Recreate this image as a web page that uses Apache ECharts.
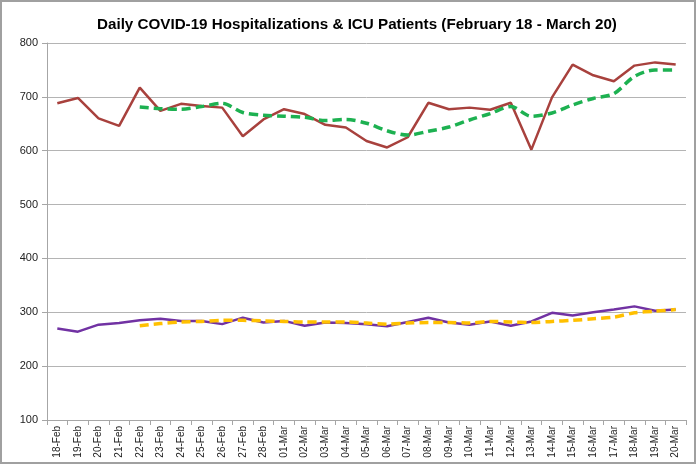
<!DOCTYPE html>
<html>
<head>
<meta charset="utf-8">
<script src="https://cdn.jsdelivr.net/npm/echarts@6/dist/echarts.min.js"></script>
<style>
html,body{margin:0;padding:0;background:#fff;}
#chart{width:696px;height:464px;}
</style>
</head>
<body>
<div id="chart"></div>
<script>
const titleText = 'Daily COVID-19 Hospitalizations & ICU Patients (February 18 - March 20)';
const categories = ['18-Feb','19-Feb','20-Feb','21-Feb','22-Feb','23-Feb','24-Feb','25-Feb','26-Feb','27-Feb','28-Feb',
  '01-Mar','02-Mar','03-Mar','04-Mar','05-Mar','06-Mar','07-Mar','08-Mar','09-Mar','10-Mar','11-Mar','12-Mar',
  '13-Mar','14-Mar','15-Mar','16-Mar','17-Mar','18-Mar','19-Mar','20-Mar'];
const hospitalizations = [688,698,660,646,717,674,687,683,680,627,658,677,668,648,643,618,606,625,689,677,680,676,689,602,699,760,740,729,758,764,760];
const hospitalizationsAvg = [null,null,null,null,681,678,677,682,688,671,666,664,662,656,658,651,637,629,636,644,657,669,682,664,670,685,697,706,738,750,750];
const icu = [270,264,277,280,285,288,284,284,278,290,281,284,275,281,280,278,274,282,290,281,277,283,275,283,299,294,300,305,311,303,305];
const icuAvg = [null,null,null,null,275,279,282,283,285,285,284,283,282,282,282,280,278,280,281,281,280,283,282,281,283,285,288,291,299,302,305];
const yMin = 100, yMax = 800, yStep = 100;

const chart = echarts.init(document.getElementById('chart'), null, {renderer:'canvas'});
const font = 'Liberation Sans';
chart.setOption({
  animation:false,
  backgroundColor:'#fff',
  title:{
    text:titleText, left:92, top:12,
    textStyle:{fontFamily:font, fontWeight:'bold', fontSize:15.2, color:'#000'}
  },
  graphic:[{type:'rect', shape:{x:1,y:1,width:694,height:462}, style:{fill:'none', stroke:'#a0a0a0', lineWidth:2}, silent:true}],
  grid:{left:47, right:10, top:43, bottom:44, containLabel:false},
  xAxis:{
    type:'category', data:categories, boundaryGap:true,
    axisLine:{lineStyle:{color:'#a6a6a6', width:1}},
    axisTick:{show:true, length:5, alignWithLabel:false, lineStyle:{color:'#a6a6a6'}},
    axisLabel:{rotate:90, interval:0, fontFamily:font, fontSize:10, color:'#222', margin:6}
  },
  yAxis:{
    type:'value', min:yMin, max:yMax, interval:yStep,
    axisLine:{show:true, lineStyle:{color:'#a6a6a6'}},
    axisTick:{show:true, length:5, inside:false, lineStyle:{color:'#a6a6a6'}},
    splitLine:{lineStyle:{color:'#b4b4b4', width:1}},
    axisLabel:{fontFamily:font, fontSize:11, color:'#222', margin:9}
  },
  series:[
    {name:'Hospitalizations', type:'line', data:hospitalizations, symbol:'none',
      lineStyle:{color:'#a8413d', width:2.5}, z:3},
    {name:'Hospitalizations avg', type:'line', data:hospitalizationsAvg, symbol:'none', smooth:0.3,
      lineStyle:{color:'#1db151', width:3.5, type:[9,5]}, z:4},
    {name:'ICU', type:'line', data:icu, symbol:'none',
      lineStyle:{color:'#7132a3', width:2.5}, z:3},
    {name:'ICU avg', type:'line', data:icuAvg, symbol:'none', smooth:0.3,
      lineStyle:{color:'#ffc000', width:3.5, type:[9,5]}, z:4}
  ]
});
</script>
</body>
</html>
